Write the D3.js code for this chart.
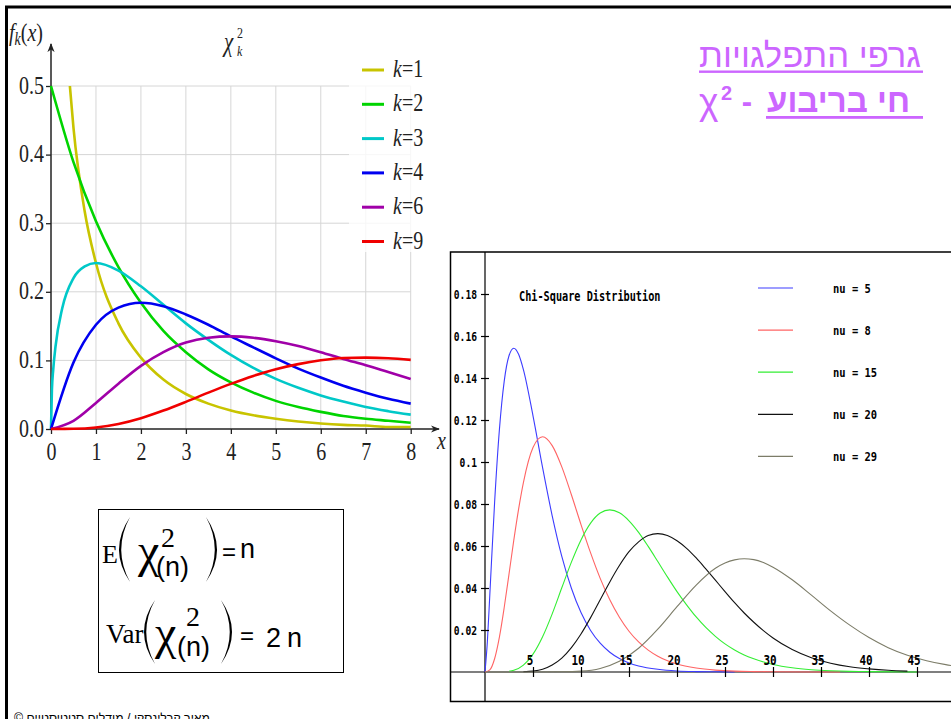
<!DOCTYPE html>
<html>
<head>
<meta charset="utf-8">
<script src="https://cdn.jsdelivr.net/npm/d3@7"></script>
<style>
  body { margin: 0; background: #fff; }
  svg { display: block; }
</style>
</head>
<body>
<div id="chart"></div>
<script>
// ---------------- data ----------------

// left chart: f_k(x), x from 0 to 8
var leftX = [0, 0.5, 1, 1.5, 2, 2.5, 3, 3.5, 4, 4.5, 5, 5.5, 6, 6.5, 7, 7.5, 8];
var k1X = [0.42, 0.5, 0.75, 1, 1.5, 2, 2.5, 3, 3.5, 4, 4.5, 5, 5.5, 6, 6.5, 7, 7.5, 8];
var k1Y = [0.50, 0.439, 0.317, 0.242, 0.154, 0.104, 0.072, 0.051, 0.037, 0.027, 0.020, 0.015, 0.011, 0.008, 0.006, 0.005, 0.003, 0.003];
var k2Y = [0.5, 0.389, 0.303, 0.236, 0.184, 0.143, 0.112, 0.087, 0.068, 0.053, 0.041, 0.032, 0.025, 0.019, 0.015, 0.012, 0.009];
var k3X = [0, 0.02, 0.05, 0.1, 0.25, 0.5, 0.75, 1, 1.5, 2, 2.5, 3, 3.5, 4, 4.5, 5, 5.5, 6, 6.5, 7, 7.5, 8];
var k3Y = [0, 0.056, 0.087, 0.120, 0.176, 0.220, 0.237, 0.242, 0.231, 0.208, 0.181, 0.154, 0.130, 0.108, 0.089, 0.073, 0.060, 0.049, 0.040, 0.032, 0.026, 0.021];
var k4Y = [0, 0.097, 0.152, 0.177, 0.184, 0.179, 0.167, 0.152, 0.135, 0.119, 0.103, 0.088, 0.075, 0.063, 0.053, 0.044, 0.037];
var k6Y = [0, 0.012, 0.038, 0.066, 0.092, 0.112, 0.126, 0.133, 0.135, 0.133, 0.128, 0.121, 0.112, 0.102, 0.093, 0.083, 0.073];
var k9Y = [0, 0.0003, 0.0023, 0.0074, 0.0158, 0.0269, 0.0396, 0.0530, 0.0658, 0.0774, 0.0872, 0.0946, 0.1001, 0.1034, 0.1041, 0.1032, 0.1007];

var leftTicksX = [0, 1, 2, 3, 4, 5, 6, 7, 8];
var leftTicksY = [0, 0.1, 0.2, 0.3, 0.4, 0.5];
var leftLabels = ["1", "2", "3", "4", "6", "9"];
var leftColors = ["#c8c400", "#00d400", "#00c8c8", "#0000f0", "#a000a8", "#f00000"];

// right chart: Chi-Square Distribution, nu = 5, 8, 15, 20, 29
var nu5X = [0, 0.25, 0.5, 1, 1.5, 2, 2.5, 3, 3.5, 4, 5, 6, 7, 8, 9, 10, 11, 12, 13, 14, 15, 16, 18, 20, 22, 24, 26];
var nu5Y = [0, 0.0147, 0.0366, 0.0807, 0.1154, 0.1384, 0.1506, 0.1542, 0.1513, 0.1440, 0.1220, 0.0973, 0.0744, 0.0551, 0.0399, 0.0283, 0.0198, 0.0137, 0.0094, 0.0064, 0.0043, 0.0029, 0.0013, 0.0005, 0.0002, 0.0001, 0];
var nu8X = [0, 0.5, 1, 1.5, 2, 2.5, 3, 3.5, 4, 5, 6, 7, 8, 9, 10, 11, 12, 13, 14, 15, 16, 17, 18, 20, 22, 24, 26, 28, 30, 34, 37];
var nu8Y = [0, 0.0010, 0.0063, 0.0166, 0.0307, 0.0466, 0.0628, 0.0776, 0.0902, 0.1069, 0.1120, 0.1078, 0.0977, 0.0844, 0.0702, 0.0567, 0.0446, 0.0344, 0.0261, 0.0194, 0.0143, 0.0104, 0.0075, 0.0038, 0.0019, 0.0009, 0.0004, 0.0002, 0.0001, 0, 0];
var nu15X = [2.5, 3, 4, 5, 6, 7, 8, 9, 10, 11, 12, 13, 14, 15, 16, 17, 18, 19, 20, 21, 22, 23, 24, 25, 26, 27, 28, 30, 32, 34, 36, 38, 40, 45];
var nu15Y = [0.0003, 0.0008, 0.0033, 0.0085, 0.0168, 0.0277, 0.0401, 0.0523, 0.0629, 0.0709, 0.0757, 0.0772, 0.0758, 0.0720, 0.0665, 0.0598, 0.0526, 0.0453, 0.0383, 0.0320, 0.0262, 0.0212, 0.0170, 0.0134, 0.0105, 0.0081, 0.0063, 0.0036, 0.0020, 0.0011, 0.0006, 0.0003, 0.0002, 0];
var nu20X = [4, 5, 6, 7, 8, 9, 10, 11, 12, 13, 14, 15, 16, 17, 18, 19, 20, 21, 22, 23, 24, 25, 26, 27, 28, 29, 30, 32, 34, 36, 38, 40, 42, 44];
var nu20Y = [0.0001, 0.0004, 0.0013, 0.0033, 0.0066, 0.0116, 0.0181, 0.0259, 0.0344, 0.0429, 0.0507, 0.0573, 0.0620, 0.0650, 0.0659, 0.0650, 0.0625, 0.0589, 0.0543, 0.0491, 0.0437, 0.0383, 0.0330, 0.0281, 0.0237, 0.0197, 0.0162, 0.0107, 0.0068, 0.0042, 0.0025, 0.0015, 0.0008, 0.0004];
var nu29X = [0, 4, 8, 10, 12, 14, 16, 18, 20, 22, 24, 25, 26, 27, 28, 29, 30, 32, 34, 36, 38, 40, 42, 44, 46, 48, 50];
var nu29Y = [0, 0, 0.0001, 0.0004, 0.0017, 0.0051, 0.0113, 0.0204, 0.0311, 0.0414, 0.0494, 0.0519, 0.0534, 0.0539, 0.0535, 0.0521, 0.0499, 0.0439, 0.0366, 0.0291, 0.0223, 0.0164, 0.0116, 0.0080, 0.0054, 0.0035, 0.0022];

var rightTicksX = [5, 10, 15, 20, 25, 30, 35, 40, 45];
var rightTicksY = [0.02, 0.04, 0.06, 0.08, 0.1, 0.12, 0.14, 0.16, 0.18];
var rightTickLabels = ["0.02", "0.04", "0.06", "0.08", "0.1", "0.12", "0.14", "0.16", "0.18"];
var rightLabels = ["nu = 5", "nu = 8", "nu = 15", "nu = 20", "nu = 29"];
var rightColors = ["#3c3cff", "#ff6464", "#33ee33", "#111111", "#7c7c68"];

// ---------------- page ----------------
var svg = d3.select("#chart").append("svg")
  .attr("width", 951)
  .attr("height", 719);

svg.append("rect").attr("width", 951).attr("height", 719).attr("fill", "#fff");

// slide frame (top and left bars)
svg.append("path")
  .attr("d", "M6.5,719 V7 H951")
  .attr("fill", "none")
  .attr("stroke", "#000")
  .attr("stroke-width", 3);

var serif = "'Liberation Serif', 'DejaVu Serif', serif";
var sans = "'Liberation Sans', Arial, sans-serif";
var mono = "'DejaVu Sans Mono', 'Liberation Mono', monospace";

var defs = svg.append("defs");
defs.append("marker")
  .attr("id", "arrow")
  .attr("viewBox", "0 0 10 10")
  .attr("refX", 9).attr("refY", 5)
  .attr("markerWidth", 9).attr("markerHeight", 9)
  .attr("markerUnits", "userSpaceOnUse")
  .attr("orient", "auto")
  .append("path")
  .attr("d", "M0,1 L10,5 L0,9 L3,5 Z")
  .attr("fill", "#222");

// ================= left chart =================
var lx = d3.scaleLinear().domain([0, 8]).range([51, 410.7]);
var ly = d3.scaleLinear().domain([0, 0.5]).range([429, 86]);
var left = svg.append("g");

// grid
left.selectAll("line.vgrid")
  .data(leftTicksX.slice(1))
  .enter().append("line")
  .attr("x1", d => lx(d)).attr("x2", d => lx(d))
  .attr("y1", ly(0)).attr("y2", ly(0.5))
  .attr("stroke", "#d6d6d6").attr("stroke-width", 1);
left.selectAll("line.hgrid")
  .data(leftTicksY.slice(1))
  .enter().append("line")
  .attr("x1", lx(0)).attr("x2", lx(8))
  .attr("y1", d => ly(d)).attr("y2", d => ly(d))
  .attr("stroke", "#d6d6d6").attr("stroke-width", 1);

// stretched LaTeX-like text helper
function ltext(g, x, y, size) {
  return g.append("text")
    .attr("transform", `translate(${x},${y}) scale(1,1.3)`)
    .style("font-family", serif)
    .style("font-size", size + "px")
    .attr("fill", "#222");
}

// axes
var lxAxis = left.append("g")
  .attr("transform", `translate(0,${ly(0)})`)
  .call(d3.axisBottom(lx).tickValues(leftTicksX).tickSize(5).tickSizeOuter(0).tickFormat(d3.format("d")));
lxAxis.select(".domain").remove();
lxAxis.selectAll("line").attr("stroke", "#222").attr("stroke-width", 1.3);
lxAxis.selectAll("text")
  .attr("y", null).attr("dy", null)
  .attr("transform", "translate(0,31) scale(1,1.3)")
  .style("font-family", serif).style("font-size", "20px").attr("fill", "#222");

var lyAxis = left.append("g")
  .attr("transform", `translate(${lx(0)},0)`)
  .call(d3.axisLeft(ly).tickValues(leftTicksY).tickSize(5).tickSizeOuter(0).tickFormat(d3.format(".1f")));
lyAxis.select(".domain").remove();
lyAxis.selectAll("line").attr("stroke", "#222").attr("stroke-width", 1.3);
lyAxis.selectAll("text")
  .attr("x", null).attr("dy", null)
  .attr("transform", "translate(-7,7) scale(1,1.3)")
  .style("font-family", serif).style("font-size", "20px").attr("fill", "#222");

// axis lines with arrows
left.append("line")
  .attr("x1", lx(0)).attr("y1", ly(0)).attr("x2", lx(0)).attr("y2", 44)
  .attr("stroke", "#222").attr("stroke-width", 1.5).attr("marker-end", "url(#arrow)");
left.append("line")
  .attr("x1", lx(0)).attr("y1", ly(0)).attr("x2", 439).attr("y2", ly(0))
  .attr("stroke", "#222").attr("stroke-width", 1.5).attr("marker-end", "url(#arrow)");

// curves
var leftSeries = [
  { xs: k1X, ys: k1Y },
  { xs: leftX, ys: k2Y },
  { xs: k3X, ys: k3Y },
  { xs: leftX, ys: k4Y },
  { xs: leftX, ys: k6Y },
  { xs: leftX, ys: k9Y }
];
var lline = d3.line()
  .x(d => lx(d[0]))
  .y(d => ly(d[1]))
  .curve(d3.curveMonotoneX);
left.selectAll("path.curve")
  .data(leftSeries)
  .enter().append("path")
  .attr("class", "curve")
  .attr("d", s => lline(s.xs.map((x, i) => [x, s.ys[i]])))
  .attr("fill", "none")
  .attr("stroke", (s, i) => leftColors[i])
  .attr("stroke-width", 2.6);

// legend (semi-opaque white box)
left.append("rect")
  .attr("x", 349).attr("y", 50).attr("width", 100).attr("height", 202)
  .attr("fill", "#fff").attr("opacity", 0.8);
leftLabels.forEach(function (lab, i) {
  var y = 70 + i * 34.3;
  left.append("line")
    .attr("x1", 362).attr("x2", 384).attr("y1", y).attr("y2", y)
    .attr("stroke", leftColors[i]).attr("stroke-width", 3);
  var t = ltext(left, 393, y + 7, 20);
  t.append("tspan").style("font-style", "italic").text("k");
  t.append("tspan").text("=" + lab);
});

// axis labels and title
var fk = ltext(left, 9, 41, 20);
fk.append("tspan").style("font-style", "italic").text("f");
fk.append("tspan").style("font-style", "italic").style("font-size", "14px").attr("dy", 3).text("k");
fk.append("tspan").attr("dy", -3).text("(");
fk.append("tspan").style("font-style", "italic").text("x");
fk.append("tspan").text(")");
ltext(left, 437, 449, 20).style("font-style", "italic").text("x");
ltext(left, 224, 51, 21).style("font-style", "italic").text("χ");
ltext(left, 237, 38, 12).text("2");
ltext(left, 237, 56, 12).style("font-style", "italic").text("k");

// ================= Hebrew heading =================
var purple = "#cc66ff";
var heb = "'Liberation Sans', 'DejaVu Sans', 'Open Sans', sans-serif";
svg.append("text")
  .attr("x", 921).attr("y", 67)
  .attr("text-anchor", "end")
  .attr("textLength", 222).attr("lengthAdjust", "spacingAndGlyphs")
  .style("font-family", heb).style("font-size", "34px")
  .attr("fill", purple)
  .text("גרפי התפלגויות");
svg.append("rect").attr("x", 699).attr("y", 70.5).attr("width", 224).attr("height", 2.4).attr("fill", purple);
svg.append("text")
  .attr("x", 910).attr("y", 112)
  .attr("text-anchor", "end")
  .attr("textLength", 143).attr("lengthAdjust", "spacingAndGlyphs")
  .style("font-family", heb).style("font-size", "33px").style("font-weight", "bold")
  .attr("fill", purple)
  .text("חי בריבוע");
svg.append("rect").attr("x", 766).attr("y", 116).attr("width", 157).attr("height", 2.8).attr("fill", purple);
svg.append("text")
  .attr("x", 747).attr("y", 112).attr("text-anchor", "middle")
  .style("font-family", heb).style("font-size", "31px").style("font-weight", "bold")
  .attr("fill", purple).text("-");
svg.append("text")
  .attr("x", 699).attr("y", 114)
  .style("font-family", sans).style("font-size", "37px")
  .attr("fill", purple).text("χ");
svg.append("text")
  .attr("x", 721).attr("y", 100)
  .style("font-family", sans).style("font-size", "20px").style("font-weight", "bold")
  .attr("fill", purple).text("2");

// ================= formula box =================
var fbox = svg.append("g");
fbox.append("rect")
  .attr("x", 98.5).attr("y", 509.5).attr("width", 245).attr("height", 163)
  .attr("fill", "none").attr("stroke", "#000").attr("stroke-width", 1);

function ftext(x, y, size, family, str, style) {
  return fbox.append("text")
    .attr("x", x).attr("y", y)
    .style("font-family", family).style("font-size", size + "px")
    .style("font-style", style || "normal")
    .attr("fill", "#000").text(str);
}
// big round bracket drawn as a tapered crescent
function paren(x0, y0, y1, open) {
  var w = 11, mid = (y0 + y1) / 2;
  var d;
  if (open) {
    var xe = x0 + w;
    d = `M${xe},${y0} Q${x0 - w},${mid} ${xe},${y1} Q${x0 - w + 4.5},${mid} ${xe},${y0} Z`;
  } else {
    d = `M${x0},${y0} Q${x0 + 2 * w},${mid} ${x0},${y1} Q${x0 + 2 * w - 4.5},${mid} ${x0},${y0} Z`;
  }
  fbox.append("path").attr("d", d).attr("fill", "#000");
}
// line 1: E(chi2_(n)) = n
ftext(102, 563, 26, serif, "E");
paren(119, 517, 582, true);
ftext(138, 567, 48, serif, "χ");
ftext(161, 547, 28, serif, "2");
ftext(156, 576, 27, sans, "(n)");
paren(206, 517, 582, false);
ftext(222, 560, 24, sans, "=");
ftext(240, 558, 27, sans, "n");
// line 2: Var(chi2_(n)) = 2n
ftext(106, 643, 27, serif, "Var");
paren(144, 600, 664, true);
ftext(155, 649, 48, serif, "χ");
ftext(186, 626, 28, serif, "2");
ftext(177, 656, 27, sans, "(n)");
paren(221, 600, 664, false);
ftext(240, 644, 24, sans, "=");
ftext(266, 647, 27, sans, "2");
ftext(287, 647, 27, sans, "n");

// copyright line (cut by the bottom edge, as in the slide)
svg.append("text")
  .attr("x", 210).attr("y", 722)
  .attr("text-anchor", "end")
  .attr("textLength", 196).attr("lengthAdjust", "spacingAndGlyphs")
  .style("font-family", heb).style("font-size", "12px")
  .attr("fill", "#000")
  .text("© מאיר קרלינסקי / מודלים סטטיסטיים");

// ================= right chart =================
var rx = d3.scaleLinear().domain([0, 45]).range([485, 917]);
var ry = d3.scaleLinear().domain([0, 0.18]).range([672, 294]);
var right = svg.append("g");

right.append("rect")
  .attr("x", 450).attr("y", 252).attr("width", 501).attr("height", 450)
  .attr("fill", "#fff");
right.append("path")
  .attr("d", "M951,252 H450.5 V701.5 H951")
  .attr("fill", "none").attr("stroke", "#000").attr("stroke-width", 1.5);

function mtext(g, x, y, size, str, perChar) {
  return g.append("text")
    .attr("x", x).attr("y", y)
    .style("font-family", mono).style("font-weight", "bold")
    .style("font-size", size + "px")
    .attr("textLength", str.length * perChar)
    .attr("lengthAdjust", "spacingAndGlyphs")
    .attr("fill", "#000").text(str);
}

var rClip = defs.append("clipPath").attr("id", "rclip");
rClip.append("rect").attr("x", 451).attr("y", 253).attr("width", 500).attr("height", 448);

// axes lines (full extent)
right.append("line")
  .attr("x1", rx(0)).attr("x2", rx(0)).attr("y1", 252).attr("y2", 702)
  .attr("stroke", "#000").attr("stroke-width", 1.2);

var rightSeries = [
  { xs: nu5X, ys: nu5Y },
  { xs: nu8X, ys: nu8Y },
  { xs: nu15X, ys: nu15Y },
  { xs: nu20X, ys: nu20Y },
  { xs: nu29X, ys: nu29Y }
];
var rline = d3.line()
  .x(d => rx(d[0]))
  .y(d => ry(d[1]))
  .curve(d3.curveMonotoneX);

right.append("line")
  .attr("x1", 450).attr("x2", 951).attr("y1", ry(0)).attr("y2", ry(0))
  .attr("stroke", "#000").attr("stroke-width", 1.2);

right.append("g").attr("clip-path", "url(#rclip)")
  .selectAll("path")
  .data(rightSeries)
  .enter().append("path")
  .attr("d", s => rline(s.xs.map((x, i) => [x, s.ys[i]])))
  .attr("fill", "none")
  .attr("stroke", (s, i) => rightColors[i])
  .attr("stroke-width", 1.1);

var ryAxis = right.append("g")
  .attr("transform", `translate(${rx(0)},0)`)
  .call(d3.axisLeft(ry).tickValues(rightTicksY).tickSize(4).tickFormat((d, i) => ""));
ryAxis.select(".domain").remove();
ryAxis.selectAll("line").attr("x1", 4).attr("stroke", "#000").attr("stroke-width", 1.2);
rightTicksY.forEach(function (v, i) {
  var lab = rightTickLabels[i];
  mtext(right, 477 - lab.length * 5.8, ry(v) + 4.5, 12, lab, 5.8);
});

var rxAxis = right.append("g")
  .attr("transform", `translate(0,${ry(0)})`)
  .call(d3.axisBottom(rx).tickValues(rightTicksX).tickSize(5).tickFormat(""));
rxAxis.select(".domain").remove();
rxAxis.selectAll("line").attr("y1", -5).attr("stroke", "#000").attr("stroke-width", 1.2);
rightTicksX.forEach(function (v) {
  var lab = String(v);
  mtext(right, rx(v) - 3 - lab.length * 3.3, ry(0) - 7, 14, lab, 6.6);
});

// title + legend
mtext(right, 519, 301, 14, "Chi-Square Distribution", 6.15);
rightLabels.forEach(function (lab, i) {
  var y = 288 + i * 42.1;
  right.append("line")
    .attr("x1", 758).attr("x2", 793).attr("y1", y).attr("y2", y)
    .attr("stroke", rightColors[i]).attr("stroke-width", 1.2);
  mtext(right, 833, y + 5, 13, lab, 6.3);
});
</script>
</body>
</html>
